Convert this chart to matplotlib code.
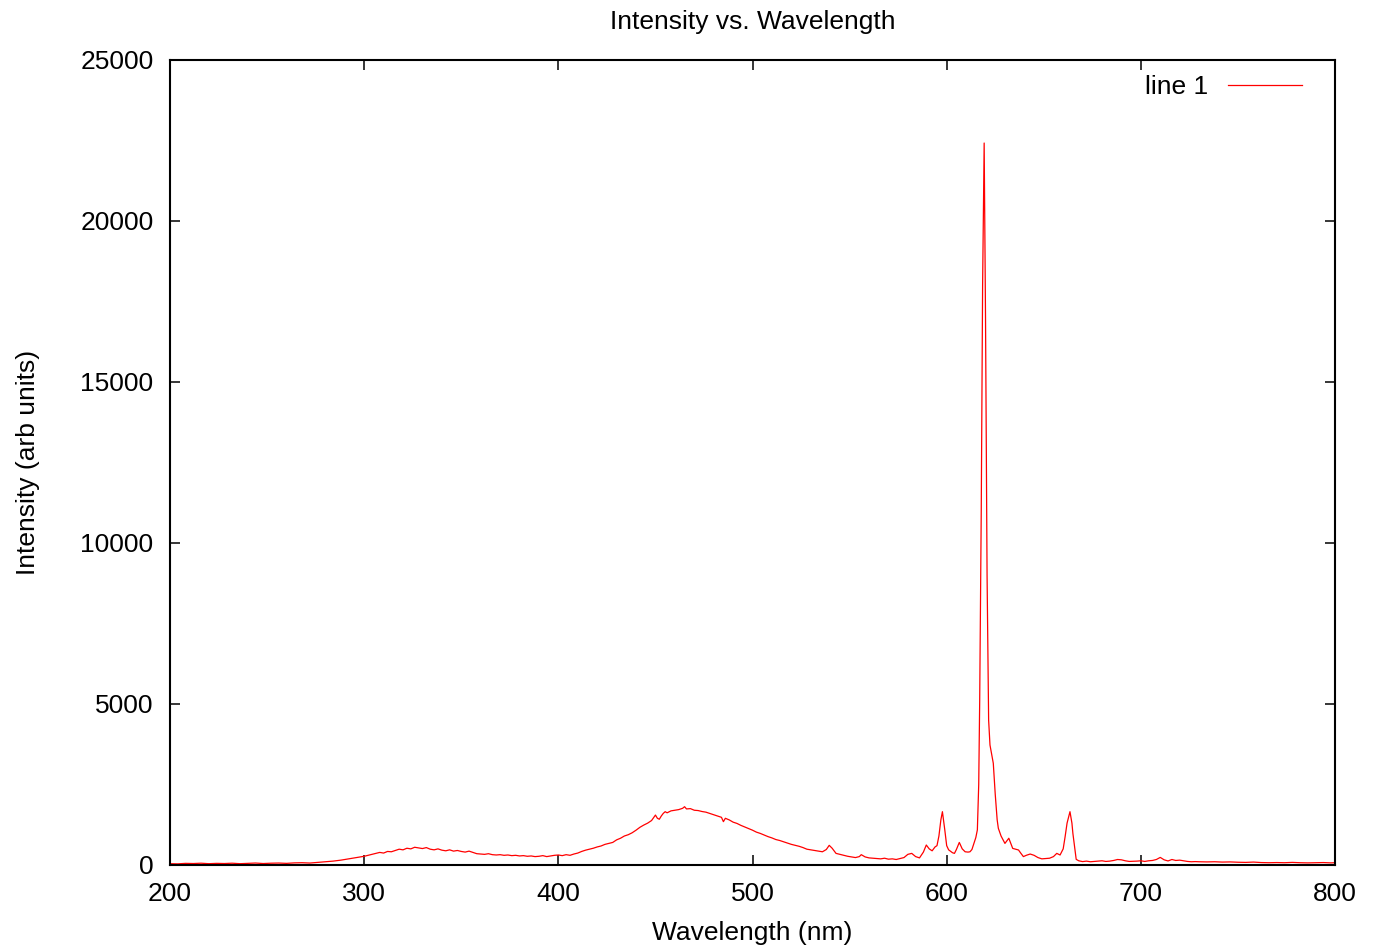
import matplotlib
matplotlib.use('Agg')
import matplotlib.pyplot as plt
import numpy as np

# spectrum (wavelength in nm, intensity in arb units)
wavelength = [
    200, 204, 208, 212, 216, 220, 224, 228, 232, 236, 240, 244, 248, 252, 256, 260, 264, 268, 272, 276,
    280, 284, 288, 292, 296, 300, 302, 304, 306, 308, 310, 312, 314, 316, 318, 320, 322, 324, 326, 328,
    330, 332, 334, 336, 338, 340, 342, 344, 346, 348, 350, 352, 354, 356, 358, 360, 362, 364, 366, 368,
    370, 372, 374, 376, 378, 380, 382, 384, 386, 388, 390, 392, 394, 396, 398, 400, 402, 404, 406, 408,
    410, 412, 414, 416, 418, 420, 422, 424, 426, 428, 430, 432, 434, 436, 438, 440, 442, 444, 446, 448,
    450, 451, 452, 453, 454, 455, 456, 458, 460, 462, 464, 465, 466, 468, 470, 472, 474, 476, 478, 480,
    482, 484, 485, 486, 488, 490, 492, 494, 496, 498, 500, 502, 504, 506, 508, 510, 512, 514, 516, 518,
    520, 522, 524, 526, 528, 530, 532, 534, 536, 538, 539.5, 541, 543, 545, 547, 549, 551, 553, 555, 556,
    558, 560, 562, 564, 566, 568, 570, 572, 574, 576, 578, 580, 582, 584, 586, 588, 589.5, 591, 592.5, 594,
    595, 596, 597, 597.8, 599, 600, 601, 603, 604, 605, 606.5, 608, 609.5, 611, 612, 613, 614, 615, 615.8, 616.5,
    617, 617.8, 618.5, 619.3, 620, 620.8, 621.6, 622.3, 623, 624, 625, 626, 626.6, 628, 630, 632, 634, 636, 637, 638,
    639.5, 641, 643, 645, 647, 649, 651, 653, 655, 656.7, 658.4, 660, 661, 662, 663.5, 664.5, 665, 666, 666.7, 668,
    670, 672, 674, 676, 678, 680, 682, 684, 686, 688, 690, 692, 694, 696, 698, 700, 702, 704, 706, 708,
    710, 712, 714, 716, 718, 720, 722, 724, 726, 728, 730, 734, 738, 742, 746, 750, 754, 758, 762, 766,
    770, 774, 778, 782, 786, 790, 794, 798, 800,
]
intensity = [
    40, 35, 50, 45, 55, 40, 50, 45, 55, 40, 50, 60, 45, 55, 60, 50, 65, 70, 60, 80,
    100, 120, 150, 190, 230, 270, 300, 330, 360, 390, 370, 420, 410, 450, 490, 470, 520, 500, 550, 530,
    510, 540, 490, 470, 500, 460, 440, 470, 430, 450, 420, 400, 430, 390, 350, 340, 330, 350, 320, 310,
    320, 300, 310, 290, 300, 280, 290, 270, 280, 260, 270, 290, 260, 280, 300, 310, 290, 320, 300, 340,
    370, 420, 460, 490, 520, 560, 590, 640, 670, 700, 780, 830, 900, 940, 1000, 1080, 1170, 1240, 1300, 1380,
    1550, 1450, 1420, 1520, 1600, 1655, 1620, 1680, 1700, 1720, 1760, 1810, 1740, 1750, 1700, 1690, 1660, 1640, 1600, 1560,
    1520, 1480, 1345, 1450, 1400, 1330, 1290, 1230, 1180, 1130, 1080, 1020, 980, 930, 880, 840, 790, 760, 720, 680,
    640, 610, 580, 540, 490, 470, 450, 430, 410, 480, 610, 520, 360, 330, 300, 270, 250, 230, 260, 320,
    250, 220, 210, 200, 190, 210, 180, 190, 170, 200, 230, 330, 360, 260, 220, 400, 620, 500, 440, 560,
    600, 900, 1400, 1655, 1100, 600, 470, 380, 360, 480, 700, 500, 410, 400, 410, 480, 670, 850, 1090, 2500,
    5100, 11000, 18000, 22420, 17000, 9000, 4500, 3725, 3500, 3160, 2200, 1400, 1140, 900, 670, 830, 515, 480, 465, 380,
    260, 300, 340, 300, 230, 190, 200, 210, 260, 360, 310, 500, 880, 1300, 1655, 1300, 980, 500, 175, 130,
    105, 120, 100, 110, 120, 130, 110, 120, 140, 170, 160, 130, 110, 115, 120, 130, 110, 130, 140, 170,
    235, 160, 125, 170, 140, 150, 130, 110, 100, 105, 100, 95, 100, 90, 95, 85, 80, 90, 75, 70,
    75, 70, 80, 70, 65, 70, 75, 65, 70,
]

x_ticks = [200, 300, 400, 500, 600, 700, 800]
y_ticks = [0, 5000, 10000, 15000, 20000, 25000]

plt.rcParams['font.family'] = ['Liberation Sans', 'DejaVu Sans']
plt.rcParams['font.size'] = 19

fig = plt.figure(figsize=(13.78, 9.5), dpi=100)
ax = fig.add_axes([0.1234, 0.0895, 0.8454, 0.8474])

ax.plot(wavelength, intensity, color='#ff0000', linewidth=0.9, label='line 1')

ax.set_xlim(200, 800)
ax.set_ylim(0, 25000)
ax.set_xticks(x_ticks)
ax.set_yticks(y_ticks)

ax.tick_params(direction='in', length=7.5, width=1.1, top=True, right=True,
               labelsize=19, pad=12, color='black')
for s in ax.spines.values():
    s.set_linewidth(1.5)

ax.set_title('Intensity vs. Wavelength', fontsize=19, pad=22)
ax.set_xlabel('Wavelength (nm)', fontsize=19)
ax.set_ylabel('Intensity (arb units)', fontsize=19)
ax.xaxis.set_label_coords(0.5, -0.069)
ax.yaxis.set_label_coords(-0.112, 0.5)

ax.legend(loc='upper right', bbox_to_anchor=(0.9717, 0.981), frameon=False,
          markerfirst=False, handlelength=2.8, handletextpad=0.75,
          borderpad=0, borderaxespad=0, fontsize=19)

fig.savefig('out.png', dpi=100)
